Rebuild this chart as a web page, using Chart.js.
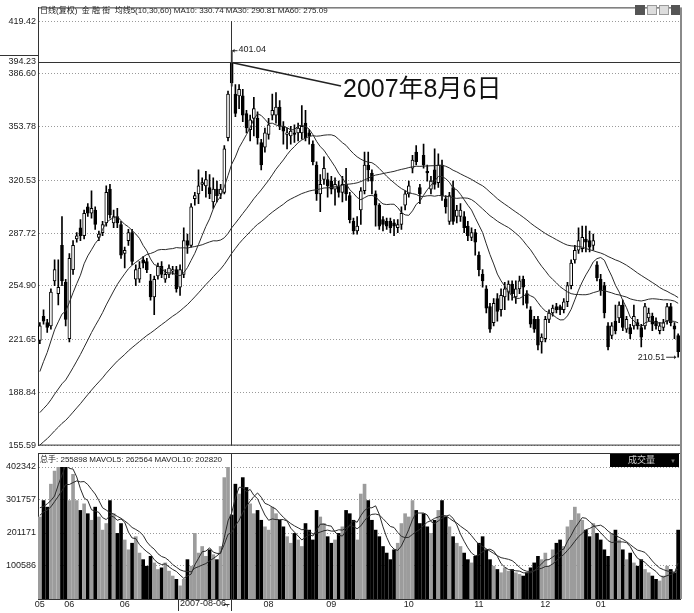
<!DOCTYPE html>
<html lang="zh-CN">
<head>
<meta charset="UTF-8">
<title>金融街 日线(复权)</title>
<script src="https://cdn.jsdelivr.net/npm/chart.js"></script>
<style>
    body { margin: 0; background: #fff; }
    #wrap { position: relative; width: 694px; height: 613px; }
    #priceChart { position: absolute; left: 0; top: 0; }
    #volChart { position: absolute; left: 0; top: 453px; }
</style>
</head>
<body>
<div id="wrap">
    <canvas id="priceChart" width="694" height="453"></canvas>
    <canvas id="volChart" width="694" height="160"></canvas>
</div>
<script>
// ---- data (daily candles, May 2007 - Jan 2008) ----
const opens = [221,236,232,230,258,250,280,257,222,265,284,291,286,304,300,302,285,288,294,315,294,298,293,275,283,288,259,259,271,270,
    258,248,261,267,259,262,264,265,254,262,283,280,309,312,318,317,316,307,315,312,313,347,393.5,
    374,373,373,362,352,359,359,344,341,349,361,361,366,354,349,348,350,350,350,356,350,343,330,312,321,321,320,315,317,313,318,
    311,295,289,302,314,330,325,312,305,296,295,295,294,291,293,305,312,328,338,316,336,326,315,327,319,330,309,295,316,298,298,
    298,292,285,288,274,262,253,242,232,247,240,248,251,256,248,253,259,250,240,234,234,220,222,234,238,242,242,240,245,255,271,
    277,278,284,283,280,268,259,255,230,224,233,235,243,228,229,230,232,229,230,235,236,233,227,229,233,242,230,224];
const highs = [232,240,234,253,271,271,298,259,275,283,288,296,302,306,314,304,289,295,317,318,302,303,295,279,290,290,268,270,273,272,
    262,261,269,270,265,268,267,267,268,291,287,306,313,327,322,326,324,322,320,318,342,376,401.04,
    380,380,377,364,361,372,363,346,353,359,374,375,370,357,353,354,355,356,367,364,352,345,332,324,335,325,323,322,320,323,328,
    313,297,298,316,338,338,327,314,306,298,297,297,296,296,304,314,320,336,342,318,343,330,323,340,337,333,311,313,320,305,306,
    301,295,291,290,276,265,255,244,247,250,253,257,258,258,258,261,261,252,242,236,236,225,236,240,243,244,243,247,257,271,280,
    291,292,292,289,287,270,262,257,232,232,243,245,246,236,231,243,234,231,244,241,238,235,232,234,244,244,232,225];
const lows = [219,231,226,228,255,243,255,230,220,262,282,283,284,298,297,290,283,286,292,297,291,291,272,266,280,268,255,257,266,263,
    246,237,259,260,257,260,262,251,249,260,275,279,305,306,314,310,309,303,307,309,312,345,379,
    360,365,357,350,345,348,343,327,338,346,358,356,352,343,340,343,344,345,346,345,343,330,308,301,318,310,312,305,310,307,308,
    294,287,287,293,312,320,312,292,290,289,290,288,286,288,290,302,310,325,330,306,328,320,312,315,316,308,300,293,293,294,295,
    288,283,283,274,261,254,238,226,230,233,236,240,246,246,244,250,243,241,229,226,215,213,220,232,236,238,237,238,242,253,269,
    275,276,276,276,277,258,249,235,215,222,225,232,227,226,222,228,228,217,228,233,227,228,225,227,231,230,222,210.51];
const closes = [230,233,229,251,265,254,258,234,272,280,286,286,300,300,303,293,287,293,313,299,298,294,274,277,288,270,265,266,269,265,
    248,259,267,262,262,266,265,253,265,283,280,304,311,317,319,321,312,315,311,315,340,374,381,
    362,377,361,353,358,365,347,330,350,355,364,366,354,351,350,351,349,353,354,347,348,332,312,318,328,317,315,318,313,318,312,
    296,289,292,314,330,327,320,305,292,293,292,291,292,293,300,312,317,333,332,312,330,325,320,318,330,311,304,311,295,302,302,
    291,286,288,282,265,258,241,228,244,239,249,253,256,250,253,258,254,244,231,228,218,223,234,238,241,240,240,245,255,269,277,
    283,285,282,279,283,260,252,238,217,230,227,243,229,234,225,236,230,223,242,238,231,230,230,232,242,232,228,214];
const volumes = [250000,300000,280000,350000,390000,420000,450000,430000,300000,380000,
    300000,270000,290000,260000,240000,280000,250000,210000,230000,300000,
    260000,200000,230000,180000,150000,170000,190000,140000,120000,100000,
    130000,110000,90000,95000,110000,85000,70000,60000,40000,60000,
    120000,100000,200000,140000,160000,130000,150000,135000,120000,160000,
    370000,406000,255898,
    350000,320000,370000,340000,290000,260000,270000,240000,220000,210000,
    280000,260000,240000,220000,190000,170000,200000,180000,160000,230000,
    210000,180000,270000,250000,230000,190000,170000,180000,200000,220000,
    270000,260000,240000,180000,320000,350000,300000,240000,210000,190000,
    160000,140000,120000,150000,170000,230000,260000,250000,300000,270000,
    230000,260000,220000,200000,240000,270000,300000,250000,220000,190000,
    170000,160000,140000,120000,110000,130000,170000,190000,150000,120000,
    100000,90000,80000,95000,85000,90000,80000,75000,70000,80000,
    95000,110000,130000,120000,140000,100000,150000,170000,180000,160000,
    220000,240000,280000,260000,240000,210000,190000,230000,200000,180000,
    150000,130000,200000,210000,180000,150000,120000,140000,110000,100000,
    120000,90000,80000,70000,60000,55000,70000,100000,90000,80000,210000];
// closes/volumes before the first visible day, only used to seed the moving averages
const priorCloses = [108,112,110,115,118,116,121,124,122,127,130,128,133,136,134,139,142,140,145,148,146,151,154,
    150,152,151,154,155,153,156,158,157,159,160,158,161,162,160,163,164,162,165,166,164,167,168,166,169,170,168,171,172,
    180,195,205,210,215,218,220];
const priorVolumes = [200000,220000,250000,230000,260000,280000,240000,300000,320000];

const priceTicks = [155.59, 188.84, 221.65, 254.90, 287.72, 320.53, 353.78, 386.60, 419.42];
const volTicks = [100586, 201171, 301757, 402342];
const monthLabels = ['05', '06', '06', '08', '09', '10', '11', '12', '01'];
const monthIndex = [0, 8, 23, 62, 79, 100, 119, 137, 152];
const markDay = 52;          // 2007-08-06
const crossPrice = 394.23;

const FONT = '"Liberation Sans", "Noto Sans CJK SC", sans-serif';

function movingAvg(prior, values, n) {
    const all = prior.concat(values);
    return values.map((_, i) => {
        const end = prior.length + i;
        let s = 0;
        for (let k = end - n + 1; k <= end; k++) s += all[k];
        return s / n;
    });
}

const days = closes.map((_, i) => String(i));
const bodies = opens.map((o, i) => [o, closes[i]]);
const wicks = lows.map((l, i) => [l, highs[i]]);
const isUp = closes.map((c, i) => c >= opens[i]);

const ma10 = movingAvg(priorCloses, closes, 10);
const ma30 = movingAvg(priorCloses, closes, 30);
const ma60 = movingAvg(priorCloses, closes, 60);
const mavol5 = movingAvg(priorVolumes, volumes, 5);
const mavol10 = movingAvg(priorVolumes, volumes, 10);

function maLine(data) {
    return { type: 'line', data: data, borderColor: '#2a2a2a', borderWidth: 1, pointRadius: 0, order: 0 };
}

const priceDecor = {
    id: 'priceDecor',
    afterDraw(chart) {
        const { ctx, chartArea: a, scales: { x, y } } = chart;
        ctx.save();
        ctx.strokeStyle = '#333';
        ctx.lineWidth = 1;
        ctx.beginPath();
        ctx.moveTo(a.left, a.top + 0.5); ctx.lineTo(a.right, a.top + 0.5);
        ctx.moveTo(a.left, a.bottom - 0.5); ctx.lineTo(a.right, a.bottom - 0.5);
        ctx.stroke();
        ctx.fillStyle = '#8a8a8a';
        ctx.fillRect(a.right, a.top, 2, chart.height - a.top);

        // header
        ctx.fillStyle = '#222';
        ctx.font = '8px ' + FONT;
        ctx.textBaseline = 'middle';
        ctx.fillText('日线(复权)  金 融 街  均线5(10,30,60) MA10: 330.74 MA30: 290.81 MA60: 275.09', 40, 11);

        // toolbar icons
        ctx.fillStyle = '#555'; ctx.fillRect(635, 5, 10, 10);
        ctx.fillStyle = '#ddd'; ctx.fillRect(647, 5, 10, 10); ctx.fillRect(659, 5, 10, 10);
        ctx.strokeStyle = '#999'; ctx.strokeRect(647.5, 5.5, 9, 9); ctx.strokeRect(659.5, 5.5, 9, 9);
        ctx.fillStyle = '#555'; ctx.fillRect(671, 5, 9, 10);

        // crosshair
        const cx = Math.round(x.getPixelForValue(markDay)) - 0.5;
        const cy = Math.round(y.getPixelForValue(crossPrice)) + 0.5;
        ctx.strokeStyle = '#333';
        ctx.beginPath();
        ctx.moveTo(a.left, cy); ctx.lineTo(a.right, cy);
        ctx.moveTo(0, cy - 7); ctx.lineTo(a.left, cy - 7);
        ctx.moveTo(cx, y.getPixelForValue(419.42)); ctx.lineTo(cx, a.bottom);
        ctx.stroke();
        ctx.fillStyle = '#222';
        ctx.font = '9px ' + FONT;
        ctx.textAlign = 'right';
        ctx.fillText(crossPrice.toFixed(2), 36, cy - 1);

        // high / low markers
        const hy = y.getPixelForValue(highs[markDay]);
        ctx.textAlign = 'left';
        ctx.beginPath(); ctx.moveTo(cx + 1, hy); ctx.lineTo(cx + 6, hy); ctx.stroke();
        ctx.beginPath(); ctx.moveTo(cx + 1, hy); ctx.lineTo(cx + 3, hy - 2); ctx.lineTo(cx + 3, hy + 2); ctx.fill();
        ctx.fillText(highs[markDay].toFixed(2), cx + 7, hy - 1);
        const li = lows.length - 1;
        const lx = x.getPixelForValue(li);
        const ly = y.getPixelForValue(lows[li]);
        ctx.beginPath(); ctx.moveTo(lx - 12, ly); ctx.lineTo(lx - 2, ly); ctx.stroke();
        ctx.beginPath(); ctx.moveTo(lx - 2, ly); ctx.lineTo(lx - 4, ly - 2); ctx.lineTo(lx - 4, ly + 2); ctx.fill();
        ctx.textAlign = 'right';
        ctx.fillText(lows[li].toFixed(2), lx - 13, ly);

        // annotation
        const topY = y.getPixelForValue(opens[markDay]);
        ctx.strokeStyle = '#222';
        ctx.lineWidth = 1.5;
        ctx.beginPath(); ctx.moveTo(cx + 1, topY); ctx.lineTo(341, 86); ctx.stroke();
        ctx.fillStyle = '#111';
        ctx.font = '25px ' + FONT;
        ctx.textAlign = 'left';
        ctx.textBaseline = 'alphabetic';
        ctx.fillText('2007年8月6日', 343, 97);
        ctx.restore();
    }
};

const volDecor = {
    id: 'volDecor',
    afterDraw(chart) {
        const { ctx, chartArea: a, scales: { x } } = chart;
        ctx.save();
        ctx.strokeStyle = '#333';
        ctx.lineWidth = 1;
        ctx.beginPath();
        ctx.moveTo(a.left, 0.5); ctx.lineTo(a.right, 0.5);
        ctx.moveTo(a.left + 0.5, 0); ctx.lineTo(a.left + 0.5, a.top);
        ctx.stroke();
        ctx.fillStyle = '#8a8a8a';
        ctx.fillRect(a.right, 0, 2, a.bottom);

        ctx.fillStyle = '#222';
        ctx.font = '8px ' + FONT;
        ctx.textBaseline = 'middle';
        ctx.fillText('总手: 255898 MAVOL5: 262564 MAVOL10: 202820', 40, 7);

        ctx.fillStyle = '#000';
        ctx.fillRect(610, 1, 69, 13);
        ctx.fillStyle = '#ccc';
        ctx.font = '9px ' + FONT;
        ctx.fillText('成交量', 628, 8);
        ctx.fillStyle = '#777';
        ctx.font = '6px ' + FONT;
        ctx.fillText('▼', 670, 8);

        const cx = Math.round(x.getPixelForValue(markDay)) - 0.5;
        ctx.strokeStyle = '#333';
        ctx.beginPath();
        ctx.moveTo(cx, 0); ctx.lineTo(cx, chart.height - 2);
        ctx.moveTo(178.5, a.bottom); ctx.lineTo(178.5, chart.height - 2);
        ctx.moveTo(cx - 8, a.bottom + 5.5); ctx.lineTo(cx - 2, a.bottom + 5.5);
        ctx.stroke();
        ctx.fillStyle = '#222';
        ctx.font = '9px ' + FONT;
        ctx.textAlign = 'left';
        ctx.fillText('2007-08-06,', 180, a.bottom + 5);
        ctx.restore();
    }
};

const baseScaleX = {
    type: 'category',
    offset: true,
    grid: { display: false, drawTicks: false, tickLength: 0 }
};

new Chart(document.getElementById('priceChart'), {
    type: 'bar',
    data: {
        labels: days,
        datasets: [
            maLine(ma10), maLine(ma30), maLine(ma60),
            {
                data: bodies,
                backgroundColor: isUp.map(u => u ? '#fff' : '#000'),
                borderColor: '#000',
                borderWidth: 1,
                borderSkipped: false,
                barThickness: 3,
                minBarLength: 1,
                grouped: false,
                order: 1
            },
            {
                data: wicks,
                backgroundColor: '#000',
                barThickness: 1,
                grouped: false,
                order: 2
            }
        ]
    },
    options: {
        responsive: false,
        animation: false,
        devicePixelRatio: 1,
        layout: { padding: { left: 0, right: 14, top: 5, bottom: 1 } },
        plugins: { legend: { display: false }, tooltip: { enabled: false } },
        scales: {
            x: Object.assign({}, baseScaleX, { display: false }),
            y: {
                min: 155.59,
                max: 427.95,
                afterBuildTicks: s => { s.ticks = priceTicks.map(v => ({ value: v })); },
                afterFit: s => { s.width = 38; },
                ticks: { callback: v => v.toFixed(2), font: { size: 9, family: FONT }, color: '#222', padding: 2 },
                grid: { color: '#9a9a9a', drawTicks: false },
                border: { display: true, color: '#333', dash: [1, 2] }
            }
        }
    },
    plugins: [priceDecor]
});

new Chart(document.getElementById('volChart'), {
    type: 'bar',
    data: {
        labels: days,
        datasets: [
            maLine(mavol5), maLine(mavol10),
            {
                data: volumes,
                backgroundColor: isUp.map(u => u ? '#9c9c9c' : '#000'),
                barThickness: 3,
                grouped: false,
                order: 1
            }
        ]
    },
    options: {
        responsive: false,
        animation: false,
        devicePixelRatio: 1,
        layout: { padding: { left: 0, right: 14, top: 14, bottom: 0 } },
        plugins: { legend: { display: false }, tooltip: { enabled: false } },
        scales: {
            x: Object.assign({}, baseScaleX, {
                afterFit: s => { s.height = 14; },
                ticks: {
                    autoSkip: false,
                    maxRotation: 0,
                    padding: 0,
                    font: { size: 9, family: FONT },
                    color: '#222',
                    callback: (v, i) => {
                        const k = monthIndex.indexOf(i);
                        return k >= 0 ? monthLabels[k] : '';
                    }
                },
                border: { display: true, color: '#333' }
            }),
            y: {
                min: 0,
                max: 402342,
                afterBuildTicks: s => { s.ticks = volTicks.map(v => ({ value: v })); },
                afterFit: s => { s.width = 38; },
                ticks: { callback: v => String(v), font: { size: 9, family: FONT }, color: '#222', padding: 2 },
                grid: { color: '#9a9a9a', drawTicks: false },
                border: { display: true, color: '#333', dash: [1, 2] }
            }
        }
    },
    plugins: [volDecor]
});
</script>
</body>
</html>
